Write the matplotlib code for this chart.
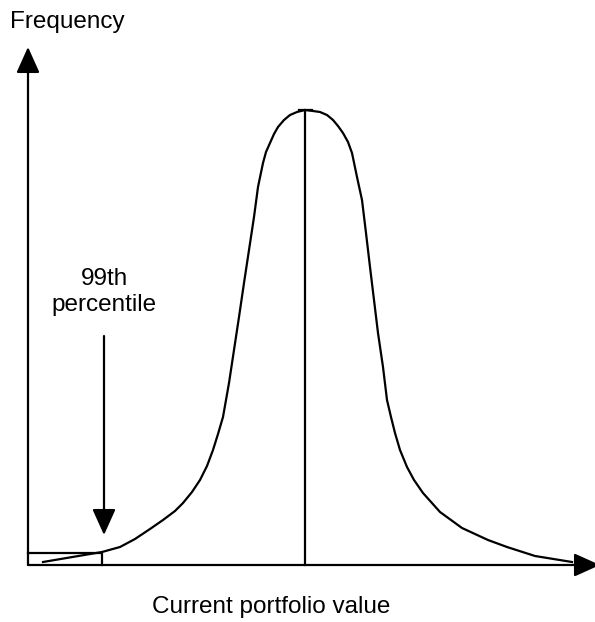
import matplotlib.pyplot as plt

# curve: x in px, height above the baseline in px
curve_x = [43, 102, 120, 135, 150, 163, 175, 183, 192, 200, 207, 213, 218, 223, 229, 234, 239,
           244, 249, 254, 258, 263, 266, 270, 274, 278, 284, 290, 297, 305,
           313, 320, 327, 333, 338, 343, 348, 352, 357, 362, 366, 370, 374, 378, 383, 387,
           391, 395, 400, 407, 414, 423, 440, 462, 488, 507, 535, 572]
curve_h = [3, 13, 18, 26, 36, 45, 54, 62, 73, 85, 99, 115, 131, 148, 182, 215, 248,
           282, 315, 348, 378, 402, 413, 422, 431, 438, 445, 450, 453, 455,
           454, 453, 450, 445, 439, 432, 423, 412, 388, 365, 332, 298, 265, 232, 198, 165,
           148, 132, 115, 98, 85, 72, 53, 37, 25, 18, 9, 3]

peak_x = 305
peak_h = 455
cutoff_x = 102
cutoff_h = 12

x_label = "Current portfolio value"
y_label = "Frequency"
pct_label = "99th\npercentile"

plt.rcParams['font.family'] = ['Liberation Sans', 'DejaVu Sans']

fig = plt.figure(figsize=(5.95, 6.22), dpi=100)
ax = fig.add_axes([0, 0, 1, 1])
ax.set_xlim(0, 595)
ax.set_ylim(-57, 565)
ax.axis('off')

lw = 1.6
head = dict(arrowstyle='-|>,head_length=0.8,head_width=0.36', mutation_scale=20,
            color='black', lw=lw, shrinkA=0, shrinkB=0)

# axes with arrow heads
ax.annotate('', xy=(28, 518), xytext=(28, 0), arrowprops=head)
ax.annotate('', xy=(600, 0), xytext=(28, 0), arrowprops=head, annotation_clip=False)

# distribution curve and centre line
ax.plot(curve_x, curve_h, color='black', lw=lw, solid_joinstyle='round')
ax.plot([peak_x, peak_x], [0, peak_h], color='black', lw=lw)
ax.plot([peak_x - 6, peak_x + 7], [peak_h, peak_h], color='black', lw=lw)

# tail box
ax.plot([28, cutoff_x, cutoff_x], [cutoff_h, cutoff_h, 0], color='black', lw=lw)

# percentile arrow
ax.annotate('', xy=(104, 30), xytext=(104, 229), arrowprops=head)
ax.text(104, 273, pct_label, ha='center', va='center', fontsize=17.5, linespacing=1.2)

ax.text(67, 543, y_label, ha='center', va='center', fontsize=17.5)
ax.text(271, -42, x_label, ha='center', va='center', fontsize=17.5)

fig.savefig('out.png', dpi=100)
